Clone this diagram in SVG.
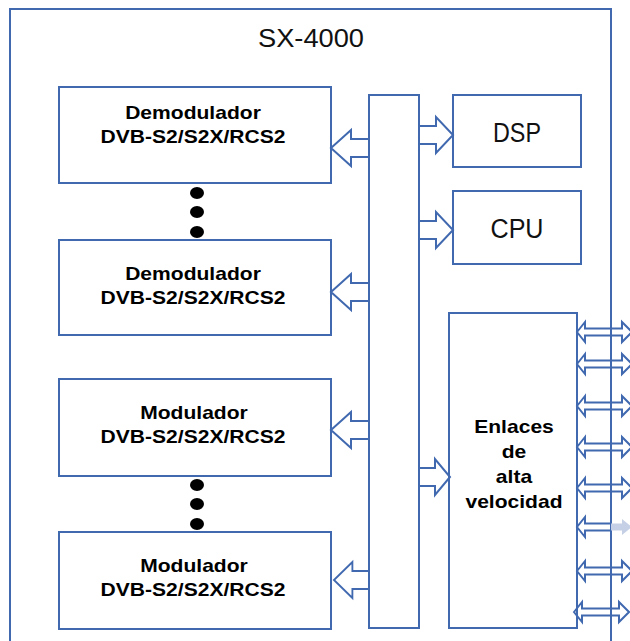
<svg xmlns="http://www.w3.org/2000/svg" width="630" height="641" viewBox="0 0 630 641">
<style>
.bx{fill:#fff;stroke:#4169b0;stroke-width:2}
.ar{fill:none;stroke:#4169b0;stroke-width:2;stroke-linejoin:miter}
.da{fill:none;stroke:#4169b0;stroke-width:2}
.lb{font-family:"Liberation Sans",Arial,sans-serif;font-weight:bold;font-size:18px;fill:#000;text-anchor:middle}
.tt{font-family:"Liberation Sans",Arial,sans-serif;font-size:27px;fill:#111;text-anchor:middle}
.dot{fill:#000}
</style>
<defs>
<path id="la" d="M38,-9 H20 V-18 L0,0 L20,18 V9 H38"/>
<path id="ra" d="M0,-9 H17 V-18 L34,0 L17,18 V9 H0"/>
<path id="dar" d="M0,0 L8,-10 V-3.5 H45 V-10 L55,0 L45,10 V3.5 H8 V10 Z"/>
</defs>
<g id="system">
<rect x="10" y="9" width="601" height="700" fill="#fff" stroke="#4169b0" stroke-width="2"/>
<text class="tt" x="311" y="47" textLength="106" lengthAdjust="spacingAndGlyphs" style="font-size:25px">SX-4000</text>
</g>
<g id="bus"><rect class="bx" x="369" y="95" width="50" height="533"/></g>
<g id="demod1">
<rect class="bx" x="59" y="87" width="272" height="96"/>
<text class="lb" transform="translate(193,0) scale(1.17,1)" x="0" y="119">Demodulador</text>
<text class="lb" transform="translate(193,0) scale(1.17,1)" x="0" y="143">DVB-S2/S2X/RCS2</text>
</g>
<g id="demod2">
<rect class="bx" x="59" y="240" width="272" height="95"/>
<text class="lb" transform="translate(193,0) scale(1.17,1)" x="0" y="280">Demodulador</text>
<text class="lb" transform="translate(193,0) scale(1.17,1)" x="0" y="304">DVB-S2/S2X/RCS2</text>
</g>
<g id="mod1">
<rect class="bx" x="59" y="379" width="272" height="97"/>
<text class="lb" transform="translate(194,0) scale(1.17,1)" x="0" y="419">Modulador</text>
<text class="lb" transform="translate(193,0) scale(1.17,1)" x="0" y="443">DVB-S2/S2X/RCS2</text>
</g>
<g id="mod2">
<rect class="bx" x="59" y="532" width="272" height="97"/>
<text class="lb" transform="translate(194,0) scale(1.17,1)" x="0" y="572">Modulador</text>
<text class="lb" transform="translate(193,0) scale(1.17,1)" x="0" y="596">DVB-S2/S2X/RCS2</text>
</g>
<g id="dots1">
<ellipse class="dot" cx="197" cy="193" rx="7" ry="6"/>
<ellipse class="dot" cx="197" cy="212" rx="7" ry="6"/>
<ellipse class="dot" cx="197" cy="232" rx="7" ry="6"/>
</g>
<g id="dots2">
<ellipse class="dot" cx="197" cy="485" rx="7" ry="6"/>
<ellipse class="dot" cx="197" cy="504" rx="7" ry="6"/>
<ellipse class="dot" cx="197" cy="524" rx="7" ry="6"/>
</g>
<g id="dsp">
<rect class="bx" x="453" y="95" width="128" height="72"/>
<text class="tt" x="517" y="142" textLength="48" lengthAdjust="spacingAndGlyphs">DSP</text>
</g>
<g id="cpu">
<rect class="bx" x="453" y="191" width="128" height="73"/>
<text class="tt" x="517" y="238" textLength="53" lengthAdjust="spacingAndGlyphs">CPU</text>
</g>
<g id="enlaces">
<rect class="bx" x="449" y="313" width="128" height="315"/>
<text class="lb" transform="translate(514,0) scale(1.17,1)" x="0" y="433">Enlaces</text>
<text class="lb" transform="translate(514,0) scale(1.17,1)" x="0" y="458">de</text>
<text class="lb" transform="translate(514,0) scale(1.17,1)" x="0" y="483">alta</text>
<text class="lb" transform="translate(514,0) scale(1.17,1)" x="0" y="508">velocidad</text>
</g>
<g id="connectors">
<use href="#la" class="ar" transform="translate(331,148)"/>
<use href="#la" class="ar" transform="translate(331,292)"/>
<use href="#la" class="ar" transform="translate(331,430)"/>
<use href="#la" class="ar" transform="translate(334,580) scale(0.92,1)"/>
<use href="#ra" class="ar" transform="translate(419,135)"/>
<use href="#ra" class="ar" transform="translate(419,230)"/>
<path class="ar" d="M419,468 H435 V459 L450,477 L435,495 V486 H419"/>
<use href="#dar" class="da" transform="translate(577,332)"/>
<use href="#dar" class="da" transform="translate(577,364)"/>
<use href="#dar" class="da" transform="translate(577,406)"/>
<use href="#dar" class="da" transform="translate(577,447)"/>
<use href="#dar" class="da" transform="translate(577,488)"/>
<path d="M611,523.5 H622 V519 L632,527 L622,535 V530.5 H611 Z" fill="#c5d0e6"/>
<path class="da" d="M611,523.5 H585 V517 L577,527 L585,537 V530.5 H611"/>
<use href="#dar" class="da" transform="translate(577,571)"/>
<use href="#dar" class="da" transform="translate(574,612)"/>
</g>
</svg>
